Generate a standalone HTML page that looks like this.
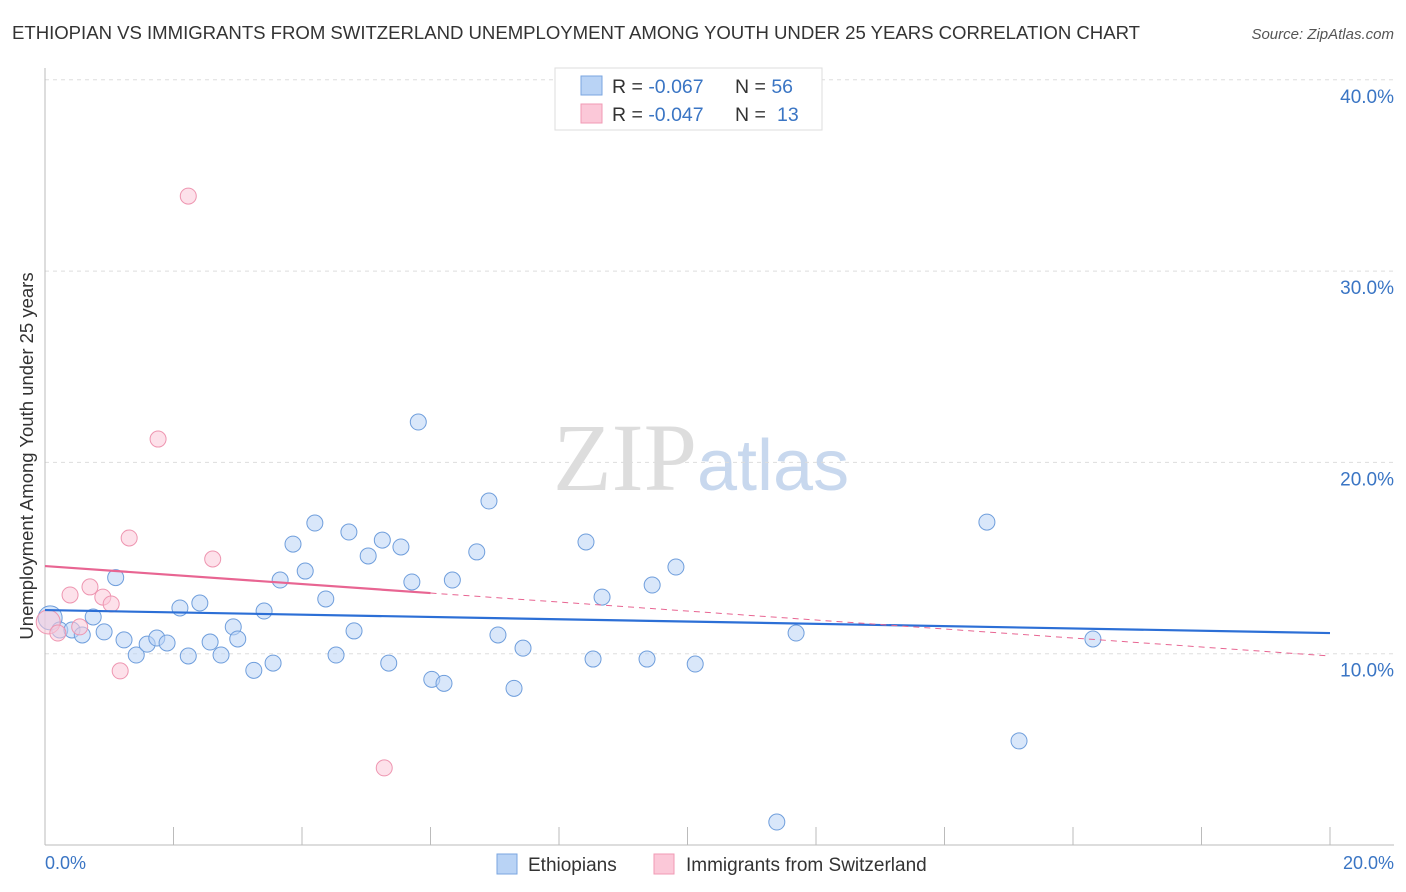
<!DOCTYPE html>
<html><head><meta charset="utf-8"><style>
body{margin:0;background:#fff;font-family:"Liberation Sans",sans-serif;}
svg{display:block}
</style></head><body>
<svg id="chart" width="1406" height="892">
<text x="12" y="39" font-size="18.6" fill="#333" textLength="1128">ETHIOPIAN VS IMMIGRANTS FROM SWITZERLAND UNEMPLOYMENT AMONG YOUTH UNDER 25 YEARS CORRELATION CHART</text>
<text x="1394" y="39" font-size="15" fill="#555" font-style="italic" text-anchor="end">Source: ZipAtlas.com</text>
<text x="553" y="490" font-size="96" fill="#ddd" font-family="Liberation Serif,serif">ZIP<tspan fill="#c8d8ee" font-family="Liberation Sans,sans-serif" font-size="72">atlas</tspan></text>
<g id="grid"></g><g id="axes"></g><g id="marks"></g>
<text transform="translate(33,456) rotate(-90)" font-size="18.5" fill="#333" text-anchor="middle">Unemployment Among Youth under 25 years</text>
<text x="45" y="869" font-size="18" fill="#3a75c4">0.0%</text>
<text x="1394" y="869" font-size="18" fill="#3a75c4" text-anchor="end">20.0%</text>
<g>
<rect x="555" y="68" width="267" height="62" fill="#fff" stroke="#ddd"/>
<rect x="581" y="76" width="21" height="19" fill="#b9d3f5" stroke="#7aa6e0"/>
<rect x="581" y="104" width="21" height="19" fill="#fbc8d8" stroke="#f09ab4"/>
<text x="612" y="93" font-size="19.5" fill="#333">R = <tspan fill="#3a75c4">-0.067</tspan></text>
<text x="735" y="93" font-size="19.5" fill="#333">N = <tspan fill="#3a75c4">56</tspan></text>
<text x="612" y="121" font-size="19.5" fill="#333">R = <tspan fill="#3a75c4">-0.047</tspan></text>
<text x="735" y="121" font-size="19.5" fill="#333">N = <tspan fill="#3a75c4" x="777">13</tspan></text>
</g>
<g>
<rect x="497" y="854" width="20" height="20" fill="#b9d3f5" stroke="#7aa6e0"/>
<text x="528" y="871" font-size="19" fill="#333">Ethiopians</text>
<rect x="654" y="854" width="20" height="20" fill="#fbc8d8" stroke="#f09ab4"/>
<text x="686" y="871" font-size="19" fill="#333">Immigrants from Switzerland</text>
</g>
</svg>
<script>
const yTicks=[10,20,30,40];
const yTickLabels=["10.0%","20.0%","30.0%","40.0%"];
const ethX=[0.08,0.23,0.42,0.58,0.75,0.92,1.1,1.23,1.42,1.59,1.74,1.9,2.1,2.23,2.41,2.57,2.74,2.93,3.0,3.25,3.41,3.55,3.66,3.86,4.05,4.2,4.37,4.53,4.73,4.81,5.03,5.25,5.35,5.54,5.71,5.81,6.02,6.21,6.34,6.72,6.91,7.05,7.3,7.44,8.42,8.53,8.67,9.37,9.45,9.82,10.12,11.39,11.69,14.66,15.16,16.31];
const ethY=[11.87,11.24,11.24,10.98,11.92,11.14,13.98,10.72,9.93,10.5,10.82,10.56,12.39,9.88,12.65,10.61,9.93,11.4,10.77,9.13,12.23,9.51,13.85,15.73,14.32,16.83,12.86,9.93,16.36,11.19,15.11,15.94,9.51,15.58,13.75,22.11,8.66,8.45,13.85,15.32,17.98,10.98,8.19,10.29,15.84,9.72,12.96,9.72,13.59,14.53,9.46,1.2,11.08,16.88,5.44,10.77];
const swX=[0.05,0.2,0.39,0.54,0.7,0.9,1.03,1.17,1.31,1.76,2.23,2.61,5.28];
const swY=[11.66,11.08,13.07,11.4,13.49,12.96,12.6,9.10,16.05,21.22,33.92,14.95,4.03];
const trendBlue=[12.28,11.08];
const trendPink=[14.58,9.88];
const X=v=>45+v*64.25, Y=v=>845-v*19.13;
const NS="http://www.w3.org/2000/svg";
function mk(t,a,p){const e=document.createElementNS(NS,t);for(const k in a)e.setAttribute(k,a[k]);p.appendChild(e);return e;}
const grid=document.getElementById('grid'),axes=document.getElementById('axes'),marks=document.getElementById('marks');
yTicks.forEach((t,i)=>{
 const l=mk('line',{x1:45,x2:1394,y1:Y(t),y2:Y(t),stroke:'#ddd','stroke-dasharray':'4 4'},grid);
 
 
 const tx=mk('text',{x:1394,y:Y(t)+23,'font-size':19,fill:'#3a75c4','text-anchor':'end'},grid);
 tx.textContent=yTickLabels[i];
 
 
});
mk('line',{x1:45,x2:45,y1:68,y2:845,stroke:'#bbb'},axes);
mk('line',{x1:45,x2:1394,y1:845,y2:845,stroke:'#bbb'},axes);
for(let i=0;i<=10;i++){mk('line',{x1:X(i*2),x2:X(i*2),y1:827,y2:845,stroke:'#bbb'},axes);}
function dots(xs,ys,fill,stroke,name){
 xs.forEach((x,i)=>{
  const c=mk('circle',{cx:X(x),cy:Y(ys[i]),r:i===0?12:8,fill:fill,'fill-opacity':0.55,stroke:stroke,'stroke-width':1},marks);
  
  
 });
}
dots(ethX,ethY,'#b9d3f5','#6f9edc','ethiopian-point');
dots(swX,swY,'#fbc8d8','#ee95b0','swiss-point');
let l=mk('line',{x1:X(0),y1:Y(trendBlue[0]),x2:X(20),y2:Y(trendBlue[1]),stroke:'#2c6fd6','stroke-width':2.2},marks);


const py=x=>trendPink[0]+(trendPink[1]-trendPink[0])*x/20;
l=mk('line',{x1:X(0),y1:Y(py(0)),x2:X(6),y2:Y(py(6)),stroke:'#e86592','stroke-width':2.2},marks);


l=mk('line',{x1:X(6),y1:Y(py(6)),x2:X(20),y2:Y(py(20)),stroke:'#e86592','stroke-width':1,'stroke-dasharray':'6 5'},marks);


</script>
</body></html>
